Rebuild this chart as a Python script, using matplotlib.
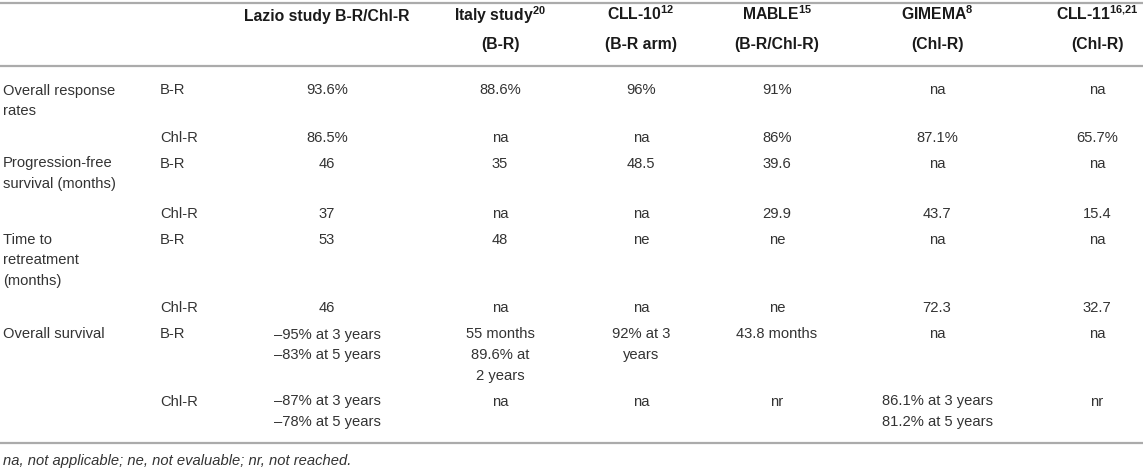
import matplotlib
matplotlib.use("Agg")
import matplotlib.pyplot as plt

# table content
col_titles = ["Lazio study B-R/Chl-R", "Italy study", "CLL-10", "MABLE", "GIMEMA", "CLL-11"]
col_refs   = ["", "20", "12", "15", "8", "16{,}21"]
col_arms   = ["", "(B-R)", "(B-R arm)", "(B-R/Chl-R)", "(Chl-R)", "(Chl-R)"]

groups = ["Overall response\nrates", "Progression-free\nsurvival (months)",
          "Time to\nretreatment\n(months)", "Overall survival"]
arms   = ["B-R", "Chl-R"]

lazio  = ["93.6%", "86.5%", "46", "37", "53", "46",
          "\u201395% at 3 years\n\u201383% at 5 years",
          "\u201387% at 3 years\n\u201378% at 5 years"]
italy  = ["88.6%", "na", "35", "na", "48", "na", "55 months\n89.6% at\n2 years", "na"]
cll10  = ["96%", "na", "48.5", "na", "ne", "na", "92% at 3\nyears", "na"]
mable  = ["91%", "86%", "39.6", "29.9", "ne", "ne", "43.8 months", "nr"]
gimema = ["na", "87.1%", "na", "43.7", "na", "72.3", "na",
          "86.1% at 3 years\n81.2% at 5 years"]
cll11  = ["na", "65.7%", "na", "15.4", "na", "32.7", "na", "nr"]

footnote = "na, not applicable; ne, not evaluable; nr, not reached."

# layout (pixel coords, y down)
W, H = 1143, 470
col_x   = [327, 500, 641, 777, 937, 1097]
row_y   = [89, 137, 162, 213, 238, 307, 333, 400]   # visual centre of first line
label_x = 3
arm_x   = 160
fs_body = 10.6
fs_head = 11.3
body_c  = "#333333"
head_c  = "#1a1a1a"
rule_c  = "#ababab"
lsp     = 1.62

plt.rcParams["font.family"] = ["Liberation Sans", "DejaVu Sans"]
plt.rcParams["mathtext.fontset"] = "custom"
plt.rcParams["mathtext.rm"] = "Liberation Sans"
plt.rcParams["mathtext.bf"] = "Liberation Sans:bold"
plt.rcParams["mathtext.default"] = "bf"

fig = plt.figure(figsize=(W / 100, H / 100), dpi=100)
ax = fig.add_axes([0, 0, 1, 1])
ax.set_xlim(0, W)
ax.set_ylim(H, 0)
ax.axis("off")

# horizontal rules
for y in [3, 66, 443]:
    ax.plot([0, W], [y, y], color=rule_c, lw=1.6, solid_capstyle="butt")

# header
for x, t, r, a in zip(col_x, col_titles, col_refs, col_arms):
    line1 = t + (r"$^{%s}$" % r if r else "")
    ax.text(x, 20.5, line1, ha="center", va="baseline", fontsize=fs_head,
            fontweight="bold", color=head_c)
    if a:
        ax.text(x, 49, a, ha="center", va="baseline", fontsize=fs_head,
                fontweight="bold", color=head_c)

# body: va=top, shift so the first line's cap centre sits on row_y
off = -5.5
for i, g in enumerate(groups):
    ax.text(label_x, row_y[2 * i] + off, g, ha="left", va="top",
            fontsize=fs_body, color=body_c, linespacing=lsp)
for j in range(len(row_y)):
    ax.text(arm_x, row_y[j] + off, arms[j % 2], ha="left", va="top",
            fontsize=fs_body, color=body_c)

columns = [lazio, italy, cll10, mable, gimema, cll11]
for x, vals in zip(col_x, columns):
    for j, v in enumerate(vals):
        ax.text(x, row_y[j] + off, v, ha="center", va="top",
                fontsize=fs_body, color=body_c, linespacing=lsp,
                multialignment="center")

ax.text(label_x, 465, footnote, ha="left", va="baseline",
        fontsize=fs_body, style="italic", color=body_c)

fig.savefig("out.png", dpi=100)
